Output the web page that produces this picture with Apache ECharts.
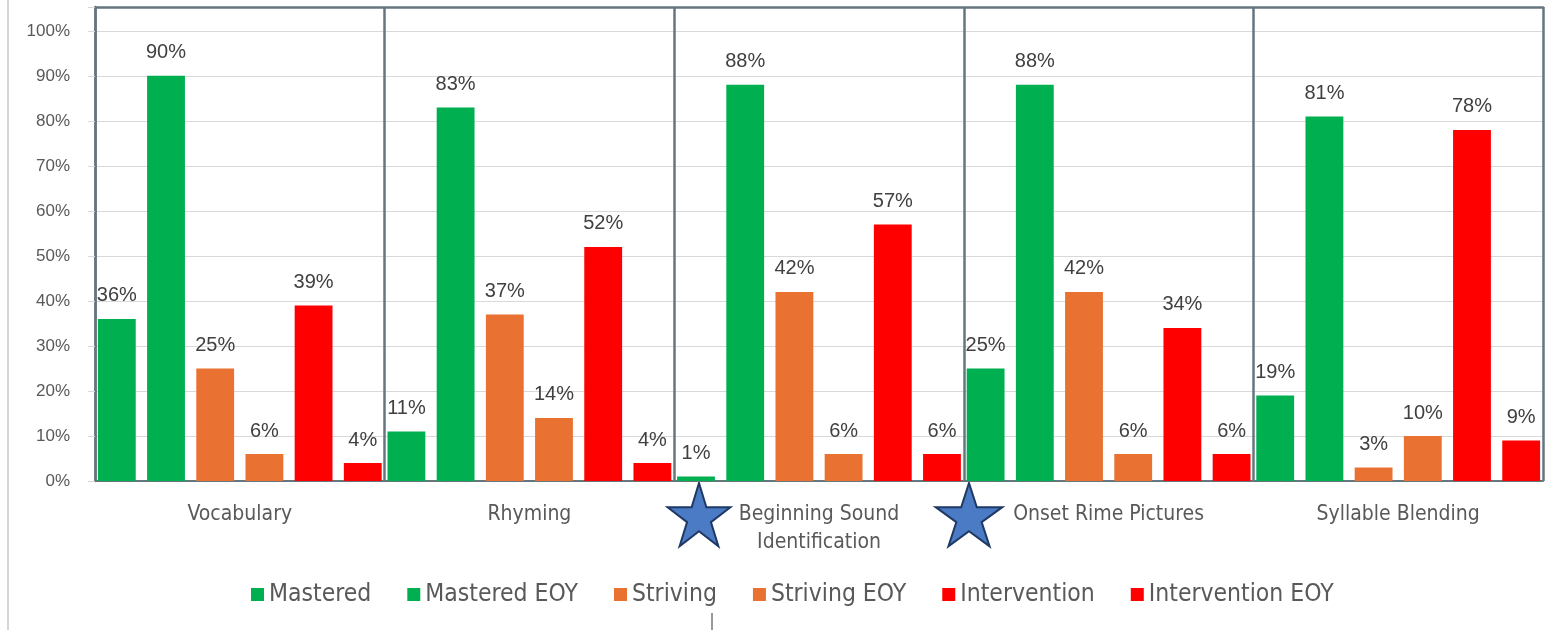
<!DOCTYPE html>
<html><head><meta charset="utf-8">
<script src="https://cdn.jsdelivr.net/npm/echarts@6/dist/echarts.min.js"></script>
<style>html,body{margin:0;padding:0;background:#fff}#c{width:1554px;height:630px}</style>
</head><body><div id="c"></div>
<script>
const categories = ['Vocabulary', 'Rhyming', 'Beginning Sound\nIdentification', 'Onset Rime Pictures', 'Syllable Blending'];
const seriesNames = ['Mastered', 'Mastered EOY', 'Striving', 'Striving EOY', 'Intervention', 'Intervention EOY'];
const mastered = [36, 11, 1, 25, 19];
const masteredEOY = [90, 83, 88, 88, 81];
const striving = [25, 37, 42, 42, 3];
const strivingEOY = [6, 14, 6, 6, 10];
const intervention = [39, 52, 57, 34, 78];
const interventionEOY = [4, 4, 6, 6, 9];
const seriesColors = ['#00b050', '#00b050', '#e97132', '#e97132', '#ff0000', '#ff0000'];
const allData = [mastered, masteredEOY, striving, strivingEOY, intervention, interventionEOY];

const narrow = "'Liberation Sans Narrow','DejaVu Sans Condensed','Roboto Condensed',sans-serif";
const BOX = '#66767f';

function starPoints(cx, cy, rx, ry, ratio) {
  const pts = [];
  for (let i = 0; i < 10; i++) {
    const a = -Math.PI / 2 + i * Math.PI / 5;
    const k = i % 2 === 0 ? 1 : ratio;
    pts.push([cx + rx * k * Math.cos(a), cy + ry * k * Math.sin(a)]);
  }
  return pts;
}

const chart = echarts.init(document.getElementById('c'));
chart.setOption({
  backgroundColor: '#fff',
  animation: false,
  grid: { left: 95, right: 11, top: 7, bottom: 149, containLabel: false },
  legend: {
    left: 246, top: 577,
    itemWidth: 13, itemHeight: 13, itemGap: 36,
    icon: 'rect',
    textStyle: { fontFamily: narrow, fontSize: 24.5, color: '#595959' },
    data: seriesNames
  },
  xAxis: [{
    type: 'category',
    data: categories,
    axisLine: { show: true, lineStyle: { color: BOX, width: 2 } },
    axisTick: { show: false },
    splitLine: { show: true, interval: 0, lineStyle: { color: BOX, width: 2.5 } },
    axisLabel: { interval: 0, margin: 20, fontFamily: narrow, fontSize: 21, color: '#595959', lineHeight: 28 }
  }, {
    type: 'category',
    position: 'top',
    data: categories,
    axisLine: { show: true, lineStyle: { color: BOX, width: 2.5 } },
    axisTick: { show: false },
    axisLabel: { show: false }
  }],
  yAxis: {
    type: 'value',
    min: 0, max: 105.3, interval: 10,
    axisLine: { show: true, lineStyle: { color: BOX, width: 2.5 } },
    axisTick: { show: true, length: 7, lineStyle: { color: '#d9d9d9' } },
    splitLine: { show: true, lineStyle: { color: '#d9d9d9', width: 1 } },
    axisLabel: {
      margin: 25,
      fontFamily: "'Liberation Sans',Arial,sans-serif", fontSize: 17, color: '#595959',
      formatter: v => (v > 100.01 ? '' : Math.round(v) + '%')
    }
  },
  series: seriesNames.map((name, i) => ({
    name: name,
    type: 'bar',
    xAxisIndex: 0,
    data: allData[i],
    barGap: '30%',
    barCategoryGap: '2%',
    itemStyle: { color: seriesColors[i] },
    label: {
      show: true, position: 'top', distance: 13,
      fontFamily: "'Liberation Sans',Arial,sans-serif", fontSize: 20, color: '#404040',
      formatter: p => p.value + '%'
    }
  })),
  graphic: [
    { type: 'line', shape: { x1: 8, y1: 0, x2: 8, y2: 630 }, style: { stroke: '#d6d6d6', lineWidth: 2 } },
    { type: 'polygon', shape: { points: starPoints(699, 518, 33, 35, 0.38) }, style: { fill: '#4a7bc4', stroke: '#1f3864', lineWidth: 2 } },
    { type: 'polygon', shape: { points: starPoints(969, 518, 35, 35, 0.38) }, style: { fill: '#4a7bc4', stroke: '#1f3864', lineWidth: 2 } },
    { type: 'line', shape: { x1: 712, y1: 613, x2: 712, y2: 630 }, style: { stroke: '#333', lineWidth: 1 } }
  ]
});
</script>
</body></html>
